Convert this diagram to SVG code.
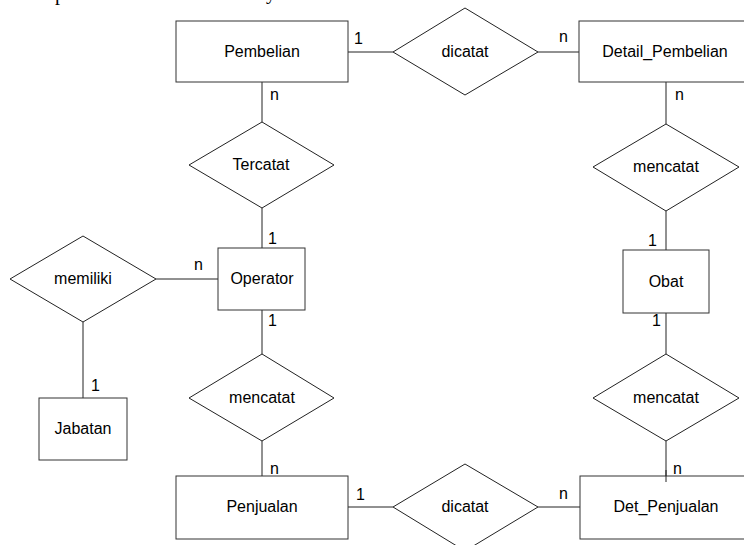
<svg xmlns="http://www.w3.org/2000/svg" width="744" height="545" viewBox="0 0 744 545">
<style>
.ent{fill:#fff;stroke:#333;stroke-width:1}
.rel{fill:#fff;stroke:#222;stroke-width:1}
.c line{stroke:#222;stroke-width:1}
text{font-family:"Liberation Sans",Arial,sans-serif;font-size:16px;fill:#000}
.lbl{text-anchor:middle}
.ser{font-family:"Liberation Serif","Times New Roman",serif;font-size:20px}
</style>
<rect width="744" height="545" fill="#fff"/>
<text class="ser" x="55" y="-0.5">p</text>
<text class="ser" x="266" y="-1">y</text>
<g class="c" id="connectors">
<line x1="348" y1="52" x2="393" y2="52"/>
<line x1="538" y1="52" x2="579" y2="52"/>
<line x1="262" y1="82" x2="262" y2="122"/>
<line x1="262" y1="208" x2="262" y2="248"/>
<line x1="156" y1="279" x2="218" y2="279"/>
<line x1="83" y1="322" x2="83" y2="398"/>
<line x1="262" y1="310" x2="262" y2="354"/>
<line x1="262" y1="441" x2="262" y2="476"/>
<line x1="348" y1="507" x2="393" y2="507"/>
<line x1="538" y1="507" x2="580" y2="507"/>
<line x1="666" y1="82" x2="666" y2="124"/>
<line x1="666" y1="211" x2="666" y2="250"/>
<line x1="666" y1="313" x2="666" y2="354"/>
<line x1="666" y1="441" x2="666" y2="482"/>
<text x="354" y="44">1</text>
<text x="559" y="42">n</text>
<text x="270" y="100">n</text>
<text x="268" y="244">1</text>
<text x="194" y="270">n</text>
<text x="268" y="326">1</text>
<text x="91" y="391">1</text>
<text x="270" y="474">n</text>
<text x="356" y="500">1</text>
<text x="559" y="499">n</text>
<text x="675" y="100">n</text>
<text x="648" y="246">1</text>
<text x="652" y="326">1</text>
<text x="673" y="474">n</text>
</g>
<g id="pembelian"><rect class="ent" x="176" y="21" width="172" height="61"/><text class="lbl" x="262" y="57">Pembelian</text></g>
<g id="dicatat1"><polygon class="rel" points="393,52 465,8 538,52 465,95"/><text class="lbl" x="465" y="57">dicatat</text></g>
<g id="detail_pembelian"><rect class="ent" x="579" y="21" width="172" height="61"/><text class="lbl" x="665" y="57">Detail_Pembelian</text></g>
<g id="tercatat"><polygon class="rel" points="189,165 262,122 334,165 262,208"/><text class="lbl" x="261" y="170">Tercatat</text></g>
<g id="mencatat1"><polygon class="rel" points="593,167 666,124 739,167 666,211"/><text class="lbl" x="666" y="172">mencatat</text></g>
<g id="memiliki"><polygon class="rel" points="10,279 83,236 156,279 83,322"/><text class="lbl" x="83" y="284">memiliki</text></g>
<g id="operator"><rect class="ent" x="218" y="248" width="87" height="62"/><text class="lbl" x="262" y="284">Operator</text></g>
<g id="obat"><rect class="ent" x="623" y="250" width="86" height="63"/><text class="lbl" x="666" y="287">Obat</text></g>
<g id="jabatan"><rect class="ent" x="39" y="398" width="88" height="62"/><text class="lbl" x="83" y="434">Jabatan</text></g>
<g id="mencatat2"><polygon class="rel" points="189,398 262,354 334,398 262,441"/><text class="lbl" x="262" y="403">mencatat</text></g>
<g id="mencatat3"><polygon class="rel" points="593,398 666,354 739,398 666,441"/><text class="lbl" x="666" y="403">mencatat</text></g>
<g id="penjualan"><rect class="ent" x="176" y="476" width="172" height="63"/><text class="lbl" x="262" y="512">Penjualan</text></g>
<g id="dicatat2"><polygon class="rel" points="393,507 465,464 538,507 465,551"/><text class="lbl" x="465" y="512">dicatat</text></g>
<g id="det_penjualan"><rect class="ent" x="580" y="476" width="171" height="63"/><text class="lbl" x="666" y="512">Det_Penjualan</text></g>
<line x1="666" y1="470" x2="666" y2="482" stroke="#222" stroke-width="1"/>
</svg>
